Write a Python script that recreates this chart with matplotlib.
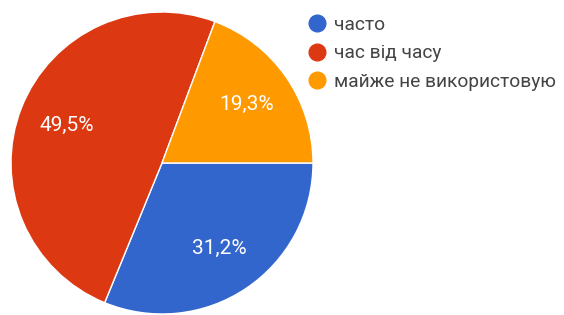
import matplotlib
matplotlib.use("Agg")
import matplotlib.pyplot as plt
from matplotlib.lines import Line2D

# survey answers
labels = ["часто", "час від часу", "майже не використовую"]
values = [31.2, 49.5, 19.3]
colors = ["#3366cc", "#dc3912", "#ff9900"]

plt.rcParams['font.family'] = ['Roboto', 'DejaVu Sans']

fig = plt.figure(figsize=(5.64, 3.15), dpi=100)
# pie axes: centre ~(162,163) px, radius ~151 px
ax = fig.add_axes([11 / 564, (315 - 314) / 315, 302 / 564, 302 / 315])

wedges, texts, autotexts = ax.pie(
    values, colors=colors, startangle=0, counterclock=False,
    autopct=lambda p: f"{p:.1f}%".replace(".", ","), pctdistance=0.68,
    wedgeprops=dict(edgecolor="white", linewidth=1),
    textprops=dict(color="white", fontsize=15),
)
ax.set_xlim(-1, 1)
ax.set_ylim(-1, 1)
ax.set_aspect("equal")

handles = [Line2D([], [], marker="o", linestyle="", markersize=12,
                  markerfacecolor=c, markeredgecolor=c) for c in colors]
fig.legend(handles, labels, loc="upper left", bbox_to_anchor=(298 / 564, 1 - 8 / 315),
           frameon=False, fontsize=13.8, labelspacing=0.55, handletextpad=0.3,
           handlelength=1.2, labelcolor="#444444", borderaxespad=0)

fig.savefig("out.png", dpi=100)
